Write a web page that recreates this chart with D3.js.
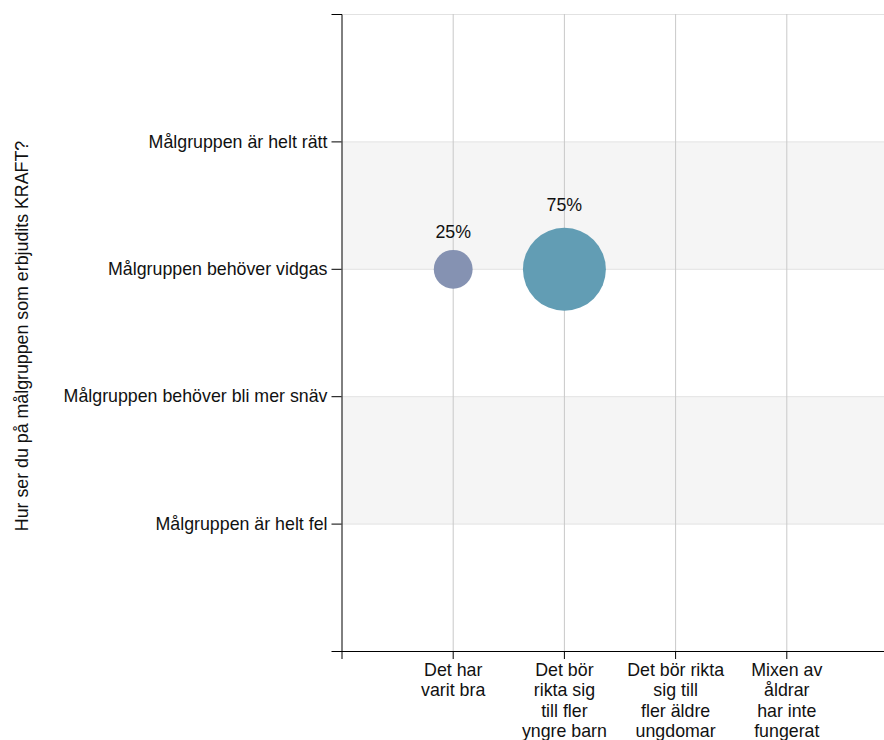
<!DOCTYPE html>
<html>
<head>
<meta charset="utf-8">
<script src="https://cdn.jsdelivr.net/npm/d3@7"></script>
<style>
  body { margin: 0; overflow: hidden; background: #fff; }
  svg { display: block; font-family: "Liberation Sans", Arial, sans-serif; }
  .axis text { font-size: 17.8px; fill: #111; }
</style>
</head>
<body>
<div id="chart-area"></div>
<script>
// Data
var yCategories = ["Målgruppen är helt rätt", "Målgruppen behöver vidgas",
    "Målgruppen behöver bli mer snäv", "Målgruppen är helt fel"];
var xCategories = ["Det har\nvarit bra", "Det bör\nrikta sig\ntill fler\nyngre barn",
    "Det bör rikta\nsig till\nfler äldre\nungdomar", "Mixen av\nåldrar\nhar inte\nfungerat"];
var bubbleX = [xCategories[0], xCategories[1]];
var bubbleY = [yCategories[1], yCategories[1]];
var bubbleValues = [25, 75];
var yTitle = "Hur ser du på målgruppen som erbjudits KRAFT?";

var margin = { left: 341.5, top: 14 };
var width = 556, height = 637;

var svg = d3.select("#chart-area")
    .append("svg")
        .attr("width", 884)
        .attr("height", 740);

var g = svg.append("g")
    .attr("transform", "translate(" + margin.left + "," + margin.top + ")");

// Scales
var x = d3.scalePoint()
    .domain(xCategories)
    .range([0, width])
    .padding(1);
var y = d3.scalePoint()
    .domain(yCategories)
    .range([0, height])
    .padding(1);
var r = d3.scaleLinear()
    .domain([0, 100])
    .range([8.4, 52.5]);
var color = d3.scaleOrdinal()
    .domain(xCategories)
    .range(["#8592b2", "#629db4", "#7fa7b8", "#8fb0c0"]);

// Shaded bands between every other pair of y ticks
var bands = [];
for (var i = 0; i < yCategories.length - 1; i += 2) {
    bands.push([yCategories[i], yCategories[i + 1]]);
}
g.selectAll("rect.band")
    .data(bands)
    .enter().append("rect")
        .attr("class", "band")
        .attr("x", 0)
        .attr("width", width)
        .attr("y", function(d) { return y(d[0]) + 0.5; })
        .attr("height", function(d) { return y(d[1]) - y(d[0]); })
        .attr("fill", "#f5f5f5");

// Horizontal grid
g.selectAll("line.hgrid")
    .data([null].concat(yCategories))
    .enter().append("line")
        .attr("class", "hgrid")
        .attr("x1", 0)
        .attr("x2", width)
        .attr("y1", function(d) { return (d === null ? 0 : y(d)) + 0.5; })
        .attr("y2", function(d) { return (d === null ? 0 : y(d)) + 0.5; })
        .attr("stroke", "#e2e2e2");

// Vertical grid
g.selectAll("line.vgrid")
    .data(xCategories)
    .enter().append("line")
        .attr("class", "vgrid")
        .attr("x1", function(d) { return x(d) + 0.5; })
        .attr("x2", function(d) { return x(d) + 0.5; })
        .attr("y1", 0)
        .attr("y2", height)
        .attr("stroke", "#c9c9c9");

// Y Axis
var yAxisCall = d3.axisLeft(y)
    .tickSize(10)
    .tickPadding(4);
g.append("g")
    .attr("class", "y axis")
    .call(yAxisCall);

// X Axis
var xAxisCall = d3.axisBottom(x)
    .tickSize(8)
    .tickPadding(4);
var xAxisG = g.append("g")
    .attr("class", "x axis")
    .attr("transform", "translate(0," + height + ")")
    .call(xAxisCall);

xAxisG.selectAll(".tick text").each(function(d) {
    var text = d3.select(this);
    var lines = d.split("\n");
    text.text(null).attr("dy", null);
    lines.forEach(function(line, i) {
        text.append("tspan")
            .attr("x", 0)
            .attr("dy", i === 0 ? "0.71em" : "1.15em")
            .text(line);
    });
});

g.selectAll(".axis path, .axis line").attr("stroke", "#000");

// Y title
svg.append("text")
    .attr("transform", "rotate(-90)")
    .attr("x", -336)
    .attr("y", 28)
    .attr("text-anchor", "middle")
    .attr("font-size", "17.8px")
    .attr("fill", "#111")
    .text(yTitle);

// Bubbles
var bubbles = bubbleValues.map(function(v, i) {
    return { x: bubbleX[i], y: bubbleY[i], value: v };
});

g.selectAll("circle")
    .data(bubbles)
    .enter().append("circle")
        .attr("cx", function(d) { return x(d.x) + 0.5; })
        .attr("cy", function(d) { return y(d.y) + 0.5; })
        .attr("r", function(d) { return r(d.value); })
        .attr("fill", function(d) { return color(d.x); });

g.selectAll("text.value")
    .data(bubbles)
    .enter().append("text")
        .attr("class", "value")
        .attr("x", function(d) { return x(d.x) + 0.5; })
        .attr("y", function(d) { return y(d.y) - (1.2 * r(d.value) + 7.6); })
        .attr("text-anchor", "middle")
        .attr("font-size", "17.8px")
        .attr("fill", "#111")
        .text(function(d) { return d.value + "%"; });
</script>
</body>
</html>
